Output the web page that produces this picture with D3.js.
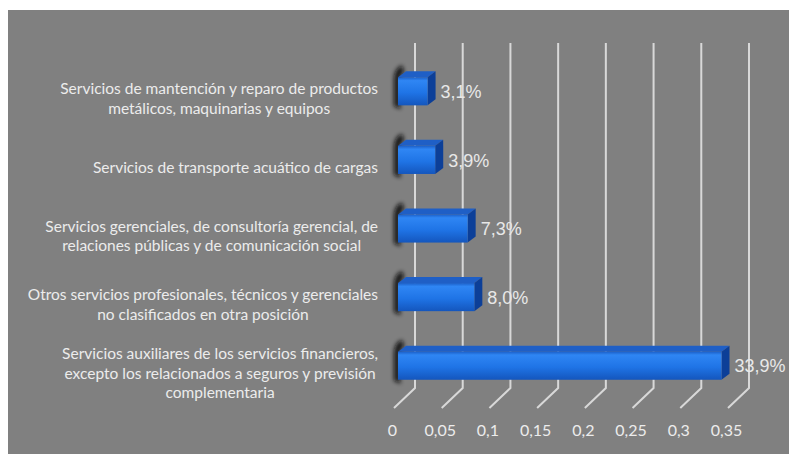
<!DOCTYPE html>
<html>
<head>
<meta charset="utf-8">
<script src="https://cdn.jsdelivr.net/npm/d3@7"></script>
<style>
  html, body { margin: 0; padding: 0; background: #ffffff; }
  svg { display: block; }
  .cat text { font-family: Lato, "Open Sans", sans-serif; font-size: 15.5px; fill: #ececec; }
  .val { font-family: "Liberation Sans", Arial, sans-serif; font-size: 18px; fill: #e8e8e8; }
  .tick text { font-family: Lato, "Open Sans", sans-serif; font-size: 16px; fill: #ececec; }
</style>
</head>
<body>
<svg id="chart" width="789" height="454"></svg>
<script>
// data, top to bottom
const categories = [
  ['Servicios de mantención y reparo de productos', 'metálicos, maquinarias y equipos'],
  ['Servicios de transporte acuático de cargas'],
  ['Servicios gerenciales, de consultoría gerencial, de', 'relaciones públicas y de comunicación social'],
  ['Otros servicios profesionales, técnicos y gerenciales', 'no clasificados en otra posición'],
  ['Servicios auxiliares de los servicios financieros,', 'excepto los relacionados a seguros y previsión', 'complementaria']
];
const values = [0.031, 0.039, 0.073, 0.080, 0.339];
const tickValues = [0, 0.05, 0.1, 0.15, 0.2, 0.25, 0.3, 0.35];

const locale = d3.formatLocale({ decimal: ',', thousands: '.', grouping: [3], currency: ['', ''] });
const fmtTick = locale.format('');
const fmtPct = locale.format('.1%');

const svg = d3.select('#chart');

// gray plate
svg.append('rect').attr('x', 8).attr('y', 10).attr('width', 781).attr('height', 444).attr('fill', '#808080');

const defs = svg.append('defs');
const frontGrad = defs.append('linearGradient').attr('id', 'front').attr('x1', 0).attr('y1', 0).attr('x2', 0).attr('y2', 1);
frontGrad.append('stop').attr('offset', '0%').attr('stop-color', '#1b5fc8');
frontGrad.append('stop').attr('offset', '12%').attr('stop-color', '#2f86f4');
frontGrad.append('stop').attr('offset', '55%').attr('stop-color', '#1f74e6');
frontGrad.append('stop').attr('offset', '100%').attr('stop-color', '#1456bd');
const blur = defs.append('filter').attr('id', 'blur').attr('x', '-100%').attr('y', '-50%').attr('width', '300%').attr('height', '200%');
blur.append('feGaussianBlur').attr('stdDeviation', 2.2);
const soft = defs.append('filter').attr('id', 'soft');
soft.append('feGaussianBlur').attr('stdDeviation', 0.4);

// scales
const xWall = d3.scaleLinear().domain([0, 0.35]).range([415, 749]);
const xBar = d3.scaleLinear().domain([0, 0.35]).range([398, 732]);
const xFront = d3.scaleLinear().domain([0, 0.35]).range([392, 726]);
const y = d3.scaleBand().domain(d3.range(categories.length)).range([57, 400])
  .paddingInner(0.59).paddingOuter(0.295);

const depthX = 8, depthY = -6;
const gridTop = 43, gridBottom = 388, floorDx = -21, floorDy = 20;

// gridlines on back wall + floor diagonals
const grid = svg.append('g').attr('filter', 'url(#soft)');
grid.selectAll('path').data(tickValues).join('path')
  .attr('d', d => `M${xWall(d)},${gridTop}V${gridBottom}l${floorDx},${floorDy}`)
  .attr('fill', 'none')
  .attr('stroke', '#d8d8d8')
  .attr('stroke-width', 2);

// bars
const bars = svg.append('g').selectAll('g').data(values).join('g');

// dark shadow to the left of each bar
bars.append('path')
  .attr('d', (d, i) => {
    const x0 = xBar(0), t = y(i), b = y(i) + y.bandwidth();
    return `M${x0 + 3},${b + 4} L${x0 - 4},${b + 1} L${x0 - 4},${t + 2} Q${x0 - 4},${t - 9} ${x0 + 4},${t - 12}
            L${x0 + 6},${t - 6} L${x0 + 2},${t} L${x0 + 2},${b}Z`;
  })
  .attr('fill', '#0d0d0d')
  .attr('opacity', 0.9)
  .attr('filter', 'url(#blur)');

// top face
bars.append('path')
  .attr('d', (d, i) => {
    const x0 = xBar(0), x1 = xBar(d), t = y(i);
    return `M${x0},${t} L${x0 + depthX},${t + depthY} L${x1 + depthX},${t + depthY} L${x1},${t}Z`;
  })
  .attr('fill', '#1f5fc6');

// side face
bars.append('path')
  .attr('d', (d, i) => {
    const x1 = xBar(d), t = y(i), b = y(i) + y.bandwidth();
    return `M${x1},${t} L${x1 + depthX},${t + depthY} L${x1 + depthX},${b + depthY} L${x1},${b}Z`;
  })
  .attr('fill', '#0c3f98');

// front face
bars.append('rect')
  .attr('x', xBar(0))
  .attr('y', (d, i) => y(i))
  .attr('width', d => xBar(d) - xBar(0))
  .attr('height', y.bandwidth())
  .attr('fill', 'url(#front)');

// value labels
bars.append('text')
  .attr('class', 'val')
  .attr('x', d => xBar(d) + depthX + 5)
  .attr('y', (d, i) => y(i) + y.bandwidth() / 2 + 2)
  .attr('dominant-baseline', 'middle')
  .text(d => fmtPct(d));

// category labels (block right-aligned, lines centered)
const catRight = 378, lineH = 19.5;
const cats = svg.append('g').attr('class', 'cat').selectAll('g').data(categories).join('g');
cats.each(function (lines, i) {
  const g = d3.select(this);
  const cy = y(i) + y.bandwidth() / 2 + 9;
  const texts = g.selectAll('text').data(lines).join('text')
    .attr('y', (d, j) => cy + (j - (lines.length - 1) / 2) * lineH)
    .attr('dominant-baseline', 'middle')
    .attr('text-anchor', 'middle')
    .text(d => d);
  let maxW = 0;
  texts.each(function () { maxW = Math.max(maxW, this.getComputedTextLength()); });
  texts.attr('x', catRight - maxW / 2);
});

// tick labels at the front edge of the floor
const axis = d3.axisBottom(xFront).tickValues(tickValues).tickSize(0).tickPadding(0).tickFormat(fmtTick);
const gAxis = svg.append('g').attr('transform', 'translate(0,425)').call(axis);
gAxis.select('.domain').remove();
gAxis.selectAll('text').attr('fill', '#ececec');
</script>
</body>
</html>
